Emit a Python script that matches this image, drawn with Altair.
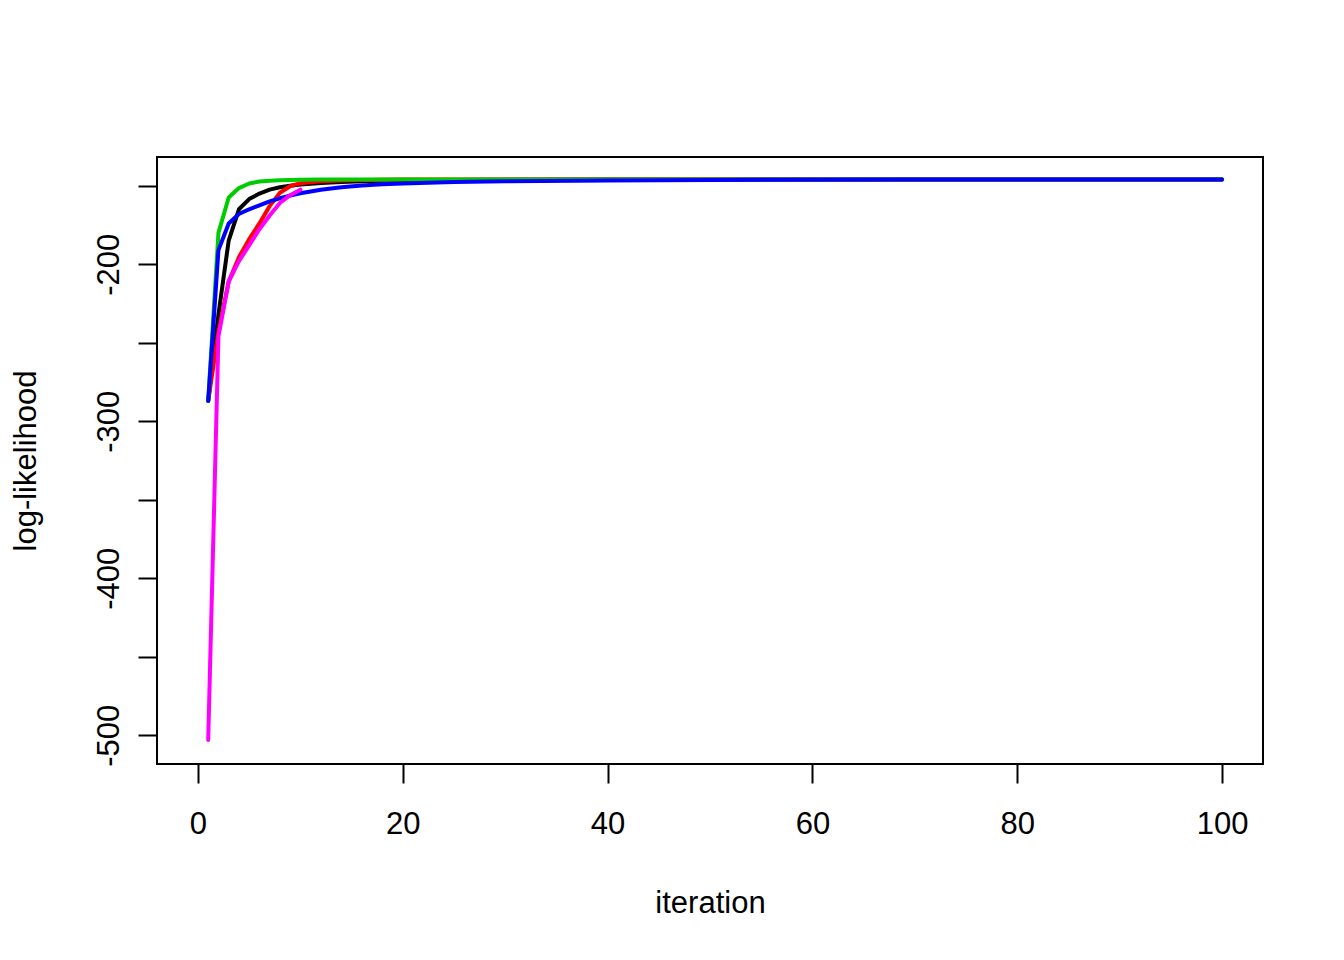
#%%
import pandas as pd
import altair as alt

iterations = [1, 2, 3, 4, 5, 6, 7, 8, 9, 10, 12, 14, 16, 18, 20, 25, 30, 40, 50, 70, 100]

black_ll = [-287, -232, -185, -165, -158.5, -155, -152.5, -151, -150, -149.2,
            -148.2, -147.6, -147.2, -146.9, -146.7, -146.4, -146.2, -146.1, -146, -146, -146]
red_ll = [-287, -243, -211, -195.5, -184, -174, -163, -154.5, -150.3, -148.4,
          -147.2, -146.7, -146.4, -146.2, -146.1, -146, -146, -146, -146, -146, -146]
green_ll = [-287, -180, -157.5, -151.5, -148.6, -147.3, -146.8, -146.5, -146.3, -146.2,
            -146.1, -146, -146, -146, -146, -146, -146, -146, -146, -146, -146]
blue_ll = [-287, -191, -174, -168, -165, -162.5, -160, -158, -156.3, -154.8,
           -152.5, -150.9, -149.9, -149.1, -148.5, -147.6, -147.1, -146.6, -146.3, -146.1, -146]

# the magenta run stops after 10 iterations
magenta_iter = [1, 2, 3, 4, 5, 6, 7, 8, 9, 10]
magenta_ll = [-503, -246, -211, -198, -188, -177.7, -169, -161, -156, -152.5]

series = [
    ('black', '#000000', iterations, black_ll),
    ('red', '#FF0000', iterations, red_ll),
    ('green', '#00CD00', iterations, green_ll),
    ('blue', '#0000FF', iterations, blue_ll),
    ('magenta', '#FF00FF', magenta_iter, magenta_ll),
]

font = 'Liberation Sans'

x_axis = alt.Axis(values=[0, 20, 40, 60, 80, 100], grid=False, domain=False,
                  tickSize=19, tickWidth=2, tickColor='black',
                  labelFont=font, labelFontSize=31, labelColor='black',
                  labelPadding=26, labelBaseline='top', labelFlush=False,
                  title='iteration', titleFont=font, titleFontSize=31,
                  titleFontWeight='normal', titleColor='black',
                  titleBaseline='alphabetic', titleX=553, titleY=148)

y_axis = alt.Axis(values=[-500, -450, -400, -350, -300, -250, -200, -150],
                  labelExpr="datum.value % 100 == 0 ? '' + datum.value : ''",
                  grid=False, domain=False,
                  tickSize=19, tickWidth=2, tickColor='black',
                  labelFont=font, labelFontSize=31, labelColor='black',
                  labelAngle=270, labelAlign='center', labelBaseline='alphabetic',
                  labelPadding=20, labelFlush=False,
                  title='log-likelihood', titleFont=font, titleFontSize=31,
                  titleFontWeight='normal', titleColor='black',
                  titleAngle=270, titleAlign='center', titleBaseline='alphabetic',
                  titleX=-122, titleY=303.5)

layers = []
for name, color, its, vals in series:
    df = pd.DataFrame({'iteration': its, 'loglik': vals, 'run': name})
    layer = alt.Chart(df).mark_line(color=color, strokeWidth=4,
                                    strokeCap='round', strokeJoin='round').encode(
        x=alt.X('iteration:Q', scale=alt.Scale(domain=[-4, 104], nice=False, zero=False),
                axis=x_axis),
        y=alt.Y('loglik:Q', scale=alt.Scale(domain=[-518.3, -131.7], nice=False, zero=False),
                axis=y_axis),
    )
    layers.append(layer)

chart = alt.layer(*layers).properties(
    width=1106,
    height=607,
    autosize='none',
    padding={'left': 149, 'top': 149, 'right': 70, 'bottom': 180},
    background='white'
).configure_view(
    stroke='black',
    strokeWidth=2
)

chart.save("out.html", embed_options={"renderer": "svg", "actions": False})
